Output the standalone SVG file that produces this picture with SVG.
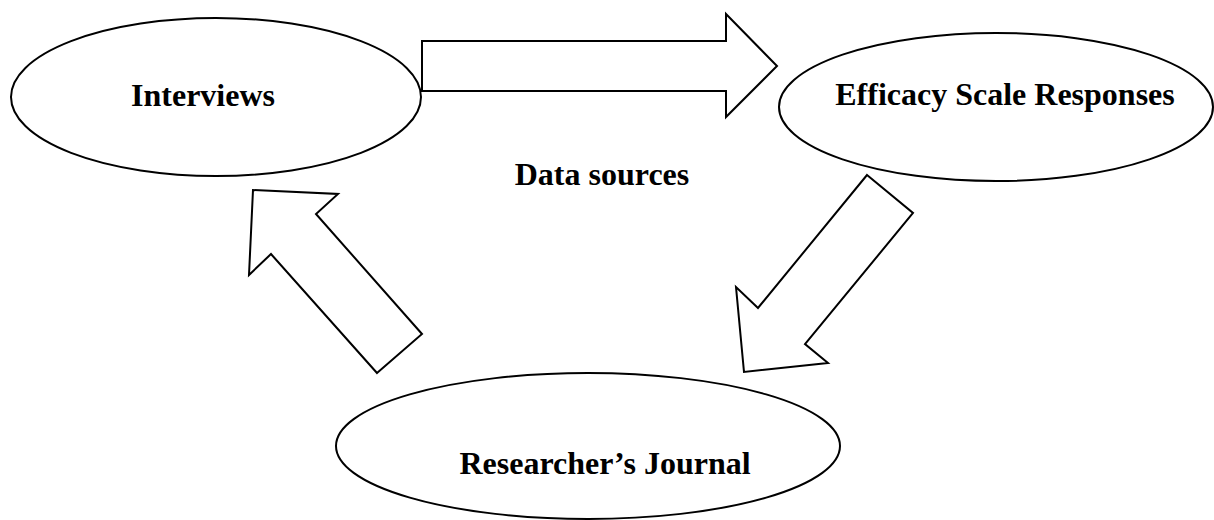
<svg xmlns="http://www.w3.org/2000/svg" width="1214" height="520" viewBox="0 0 1214 520">
<style>
.shape{fill:#fff;stroke:#000;stroke-width:2;stroke-linejoin:miter}
.lbl{font-family:"Liberation Serif","Times New Roman",serif;font-weight:bold;font-size:32px;fill:#000}
</style>
<rect width="1214" height="520" fill="#fff"/>
<g id="connectors">
<polygon class="shape" points="422,41 726,41 726,14 777,66 726,117 726,91 422,91"/>
<polygon class="shape" points="867,175 913,213 805,344 828,363 744,372 736,287 758,308"/>
<polygon class="shape" points="377,373 422,334 316,214 338,194 253,190 249,275 271,254"/>
</g>
<g id="interviews">
<ellipse class="shape" cx="216" cy="97" rx="205" ry="79"/>
<text class="lbl" x="203" y="106" text-anchor="middle">Interviews</text>
</g>
<g id="efficacy">
<ellipse class="shape" cx="996" cy="107" rx="217" ry="74"/>
<text class="lbl" x="1005" y="105" text-anchor="middle">Efficacy Scale Responses</text>
</g>
<g id="journal">
<ellipse class="shape" cx="588" cy="446" rx="252" ry="73"/>
<text class="lbl" x="605" y="474" text-anchor="middle">Researcher’s Journal</text>
</g>
<g id="data-sources">
<text class="lbl" x="602" y="185" text-anchor="middle">Data sources</text>
</g>
</svg>
